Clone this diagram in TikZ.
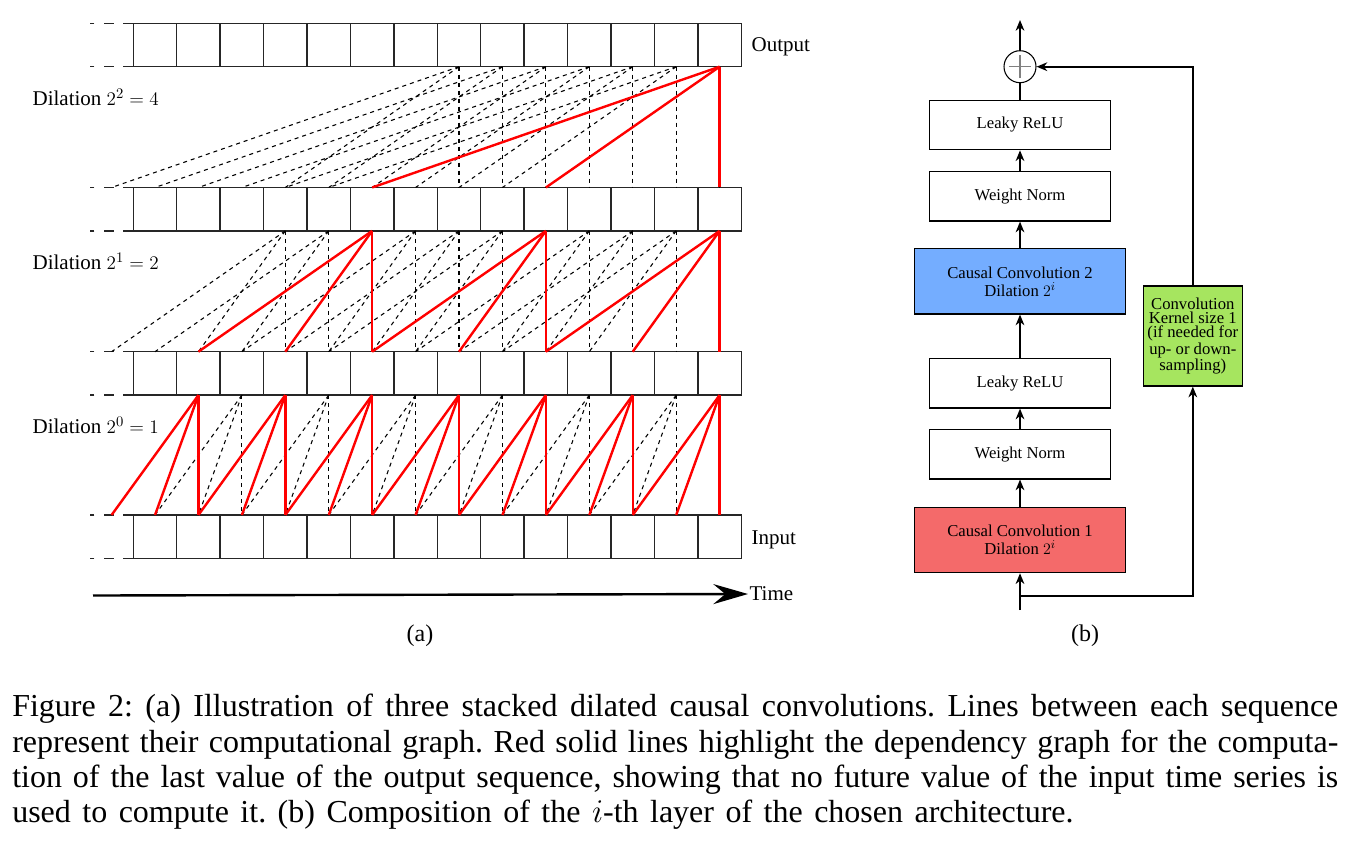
\documentclass[tikz,border=0pt]{standalone}
\usepackage{fontspec}
\setmainfont{Liberation Serif}
\usetikzlibrary{arrows.meta,calc}
\definecolor{convblue}{RGB}{116,173,255}
\definecolor{convred}{RGB}{244,106,106}
\definecolor{convgreen}{RGB}{166,229,95}
\begin{document}
\begin{tikzpicture}[x=0.75pt,y=-0.75pt,
  cell/.style={draw=black!85,line width=1.1pt,minimum width=32.57pt,minimum height=32.57pt,inner sep=0pt,outer sep=0pt},
  ghost/.style={minimum width=32.57pt,minimum height=32.57pt,inner sep=0pt,outer sep=0pt},
  dep/.style={black,dashed,line width=0.8pt},
  hot/.style={red,line width=1.8pt},
  leftdash/.style={black!85,line width=1pt,dash pattern=on 7.5pt off 7.1pt},
  lbl/.style={font=\fontsize{15.75pt}{18pt}\selectfont,inner sep=1pt},
  blk/.style={draw,line width=0.9pt,fill=white,minimum width=136pt,minimum height=37.1pt,align=center,font=\fontsize{12.5pt}{14pt}\selectfont,inner sep=1pt},
  wide/.style={blk,minimum width=158pt,minimum height=49pt,font=\fontsize{12.5pt}{13.5pt}\selectfont},
  conn/.style={line width=1.4pt},
  arr/.style={conn,-{Stealth[length=8pt,width=6.5pt,inset=2.5pt]}},
]
\useasboundingbox (0,0) rectangle (1362,843);

% ---------- (a) sequences ----------
\foreach \r/\yc in {0/45.0,1/209.2,2/373.4,3/536.7}{
  \node[ghost] (c\r-0) at (111.6,\yc) {};
  \foreach \j in {1,...,14}{
    \node[cell] (c\r-\j) at ({133.3+43.43*(\j-0.5)},\yc) {};
  }
  \draw[leftdash] (c\r-1.north west) -- ++(-43,0);
  \draw[leftdash] (c\r-1.south west) -- ++(-43,0);
}

% dashed computational graph
\foreach \u/\d/\tmin in {0/4/7,1/2/3,2/1/1}{
  \pgfmathtruncatemacro\l{\u+1}
  \foreach \t in {\tmin,...,13}{
    \foreach \k in {0,1,2}{
      \pgfmathtruncatemacro\jl{\t-\k*\d+1}
      \pgfmathtruncatemacro\ju{\t+1}
      \draw[dep] (c\u-\ju.south) -- (c\l-\jl.north);
    }
  }
}

% red dependency graph
\foreach \t in {13}{
  \foreach \k in {0,1,2}{
    \pgfmathtruncatemacro\jl{\t-4*\k+1}
    \pgfmathtruncatemacro\ju{\t+1}
    \draw[hot] (c0-\ju.south) -- (c1-\jl.north);
  }
}
\foreach \t in {5,9,13}{
  \foreach \k in {0,1,2}{
    \pgfmathtruncatemacro\jl{\t-2*\k+1}
    \pgfmathtruncatemacro\ju{\t+1}
    \draw[hot] (c1-\ju.south) -- (c2-\jl.north);
  }
}
\foreach \t in {1,3,...,13}{
  \foreach \k in {0,1,2}{
    \pgfmathtruncatemacro\jl{\t-\k+1}
    \pgfmathtruncatemacro\ju{\t+1}
    \draw[hot] (c2-\ju.south) -- (c3-\jl.north);
  }
}

% labels
\node[lbl,anchor=west] (outlbl) at (750,47) {Output};
\node[lbl,anchor=west] (inlbl) at (750,540) {Input};
\node[lbl,anchor=west] (d4) at (31,97) {Dilation $2^2=4$};
\node[lbl,anchor=west] (d2) at (31,261) {Dilation $2^1=2$};
\node[lbl,anchor=west] (d1) at (31,425) {Dilation $2^0=1$};
\node[lbl,anchor=west] (time) at (748,594) {Time};
\coordinate (tstart) at (93,595.5);
\draw[line width=1.8pt,-{Stealth[length=26pt,width=15pt,inset=9pt]}] (tstart) -- (time.west);
\node[font=\fontsize{18pt}{20pt}\selectfont] (capa) at (420,636) {(a)};

% ---------- (b) layer ----------
\node[circle,draw,line width=0.8pt,minimum size=24pt,inner sep=0pt,fill=white] (sum) at (1020,66.7) {};
\draw[gray,line width=0.9pt] ([xshift=-8.6pt]sum.center) -- ([xshift=8.6pt]sum.center);
\draw[gray,line width=0.9pt] ([yshift=-8.6pt]sum.center) -- ([yshift=8.6pt]sum.center);
\node[blk] (lr1) at (1020,125) {Leaky ReLU};
\node[blk] (wn1) at (1020,196.3) {Weight Norm};
\node[wide,fill=convblue] (cc2) at (1020,281.3) {Causal Convolution 2\\Dilation $2^i$};
\node[blk] (lr2) at (1020,383.3) {Leaky ReLU};
\node[blk] (wn2) at (1020,454.2) {Weight Norm};
\node[wide,fill=convred] (cc1) at (1020,540) {Causal Convolution 1\\Dilation $2^i$};
\node[draw,line width=0.9pt,fill=convgreen,minimum width=74.25pt,minimum height=75pt,inner sep=0pt,align=center,
      font=\fontsize{12.5pt}{10.8pt}\selectfont] (res) at (1192.8,336)
      {Convolution\\Kernel size 1\\(if needed for\\up- or down-\\sampling)};

\coordinate (outtop) at (1020,20);
\coordinate (inbot) at (1020,610);
\coordinate (branch) at (1020,595.7);
\draw[arr] (sum) -- (outtop);
\draw[conn] (lr1) -- (sum);
\draw[arr] (wn1) -- (lr1);
\draw[arr] (cc2) -- (wn1);
\draw[arr] (lr2) -- (cc2);
\draw[arr] (wn2) -- (lr2);
\draw[arr] (cc1) -- (wn2);
\draw[arr] (inbot) -- (cc1);
\draw[arr] (branch) -| (res.south);
\draw[arr] (res.north) |- (sum.east);
\node[font=\fontsize{18pt}{20pt}\selectfont] (capb) at (1085,636) {(b)};

% ---------- caption ----------
\node[anchor=north west,inner sep=0pt,text width=994.5pt,align=left,
      font=\fontsize{24pt}{26.5pt}\selectfont] (caption) at (12,694)
 {\frenchspacing\spaceskip=0.25em plus 1fil minus 0.08em\relax
  \hbox to 994.5pt{Figure 2: (a) Illustration of three stacked dilated causal convolutions. Lines between each sequence}
  \hbox to 994.5pt{represent their computational graph. Red solid lines highlight the dependency graph for the computa-}
  \hbox to 994.5pt{tion of the last value of the output sequence, showing that no future value of the input time series is}
  \hbox to 796pt{used to compute it. (b) Composition of the $i$-th layer of the chosen architecture.}};
\end{tikzpicture}
\end{document}
